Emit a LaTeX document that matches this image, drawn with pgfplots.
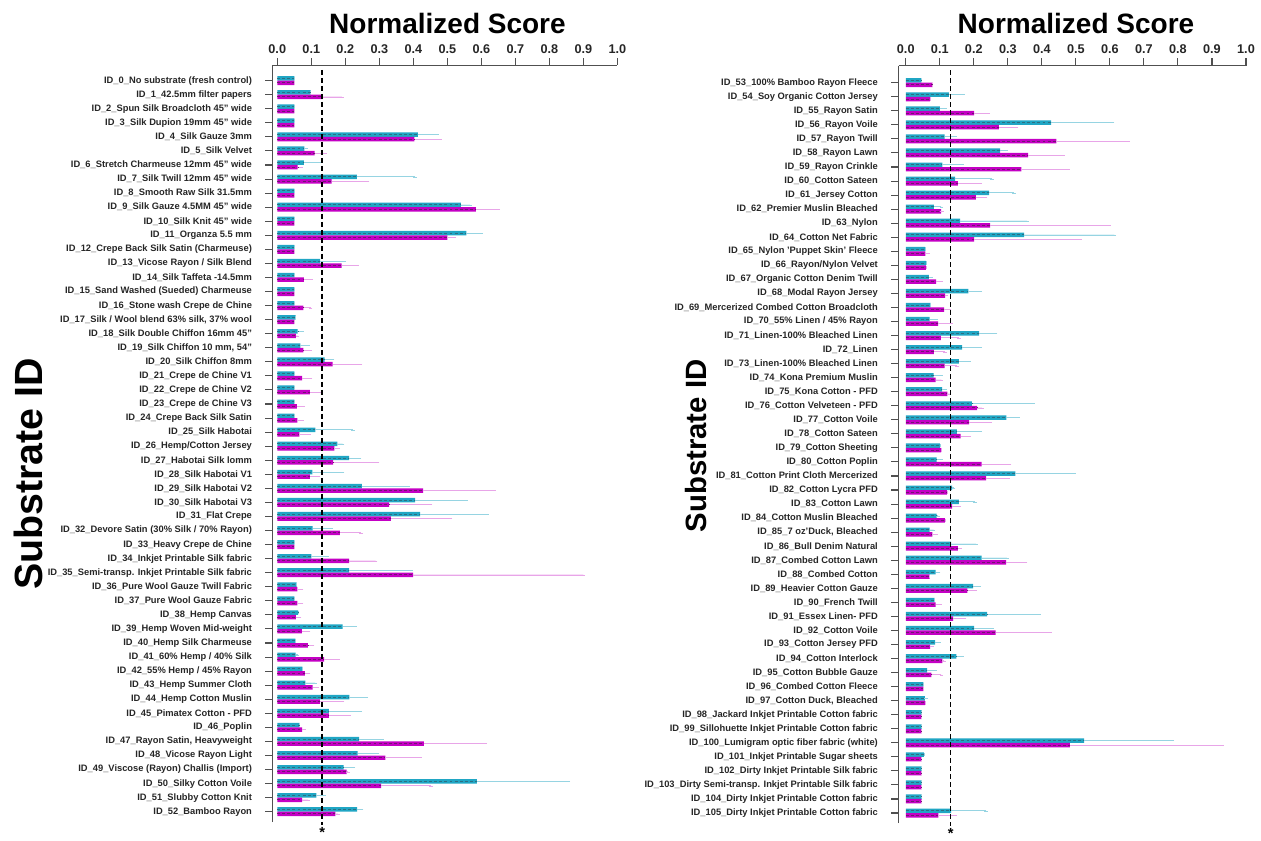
\documentclass[border=0pt]{standalone}
\usepackage{pgfplots}
\pgfplotsset{compat=1.18}
\usepackage{pgfplotstable}
\usepackage{fontspec}
\setmainfont{Liberation Sans}
\definecolor{cyb}{RGB}{32,166,196}
\definecolor{cyd}{RGB}{45,110,130}
\definecolor{cye}{RGB}{150,212,226}
\definecolor{mgb}{RGB}{196,0,196}
\definecolor{mgd}{RGB}{110,25,110}
\definecolor{mge}{RGB}{232,165,232}
\definecolor{axc}{RGB}{80,80,80}

% y = -(position), c = cyan value, ce = cyan error end, m = magenta value, me = magenta error end
\pgfplotstableread{
y c ce m me
0 0.050 0.050 0.050 0.050
-1 0.098 0.098 0.133 0.190
-2 0.050 0.050 0.050 0.050
-3 0.050 0.050 0.050 0.050
-4 0.413 0.470 0.403 0.478
-5 0.080 0.085 0.110 0.140
-6 0.078 0.126 0.060 0.070
-7 0.234 0.405 0.160 0.266
-8 0.050 0.050 0.050 0.050
-9 0.540 0.567 0.584 0.650
-10 0.050 0.050 0.050 0.050
-11 0.556 0.600 0.500 0.520
-12 0.050 0.050 0.050 0.050
-13 0.126 0.197 0.189 0.234
-14 0.050 0.050 0.078 0.100
-15 0.050 0.050 0.050 0.050
-16 0.050 0.050 0.077 0.098
-17 0.054 0.054 0.050 0.050
-18 0.060 0.073 0.055 0.060
-19 0.068 0.091 0.077 0.097
-20 0.139 0.163 0.163 0.245
-21 0.050 0.050 0.073 0.098
-22 0.050 0.050 0.096 0.124
-23 0.050 0.050 0.058 0.077
-24 0.050 0.050 0.059 0.073
-25 0.112 0.222 0.065 0.094
-26 0.177 0.192 0.168 0.180
-27 0.211 0.242 0.164 0.295
-28 0.103 0.192 0.096 0.120
-29 0.249 0.384 0.429 0.638
-30 0.405 0.555 0.329 0.451
-31 0.420 0.617 0.334 0.510
-32 0.104 0.159 0.184 0.246
-33 0.050 0.050 0.050 0.050
-34 0.100 0.148 0.211 0.289
-35 0.211 0.393 0.399 0.900
-36 0.057 0.057 0.059 0.072
-37 0.050 0.050 0.059 0.072
-38 0.061 0.061 0.055 0.066
-39 0.192 0.229 0.072 0.092
-40 0.053 0.053 0.090 0.104
-41 0.054 0.060 0.138 0.180
-42 0.074 0.074 0.081 0.092
-43 0.083 0.111 0.104 0.118
-44 0.212 0.262 0.125 0.192
-45 0.152 0.244 0.152 0.211
-46 0.066 0.066 0.073 0.079
-47 0.241 0.308 0.431 0.612
-48 0.236 0.295 0.318 0.419
-49 0.195 0.224 0.204 0.208
-50 0.587 0.856 0.305 0.452
-51 0.115 0.138 0.073 0.091
-52 0.235 0.248 0.171 0.178
}\leftdata

\pgfplotstableread{
y c ce m me
0 0.046 0.046 0.079 0.079
-1 0.127 0.168 0.071 0.071
-2 0.100 0.115 0.201 0.243
-3 0.427 0.608 0.274 0.326
-4 0.114 0.146 0.443 0.654
-5 0.277 0.296 0.360 0.462
-6 0.108 0.165 0.340 0.477
-7 0.145 0.254 0.153 0.219
-8 0.245 0.318 0.206 0.235
-9 0.083 0.105 0.104 0.106
-10 0.160 0.357 0.248 0.598
-11 0.348 0.613 0.201 0.512
-12 0.056 0.056 0.058 0.066
-13 0.059 0.059 0.059 0.059
-14 0.068 0.074 0.089 0.105
-15 0.184 0.219 0.116 0.119
-16 0.073 0.073 0.113 0.127
-17 0.070 0.090 0.095 0.133
-18 0.216 0.264 0.103 0.156
-19 0.166 0.219 0.083 0.115
-20 0.156 0.186 0.114 0.150
-21 0.082 0.103 0.088 0.105
-22 0.107 0.115 0.122 0.129
-23 0.194 0.374 0.210 0.224
-24 0.296 0.330 0.186 0.249
-25 0.150 0.219 0.161 0.186
-26 0.100 0.100 0.104 0.104
-27 0.091 0.103 0.223 0.305
-28 0.322 0.494 0.236 0.301
-29 0.136 0.141 0.121 0.121
-30 0.156 0.203 0.136 0.156
-31 0.091 0.096 0.115 0.115
-32 0.070 0.082 0.078 0.089
-33 0.133 0.207 0.153 0.160
-34 0.223 0.297 0.295 0.352
-35 0.088 0.097 0.070 0.070
-36 0.198 0.216 0.181 0.205
-37 0.085 0.085 0.088 0.100
-38 0.239 0.391 0.139 0.173
-39 0.201 0.255 0.264 0.425
-40 0.086 0.098 0.072 0.077
-41 0.149 0.165 0.108 0.113
-42 0.063 0.086 0.075 0.105
-43 0.052 0.052 0.052 0.052
-44 0.056 0.059 0.056 0.056
-45 0.047 0.047 0.047 0.047
-46 0.047 0.047 0.047 0.047
-47 0.524 0.784 0.482 0.929
-48 0.053 0.053 0.047 0.047
-49 0.047 0.047 0.047 0.047
-50 0.047 0.047 0.047 0.047
-51 0.047 0.047 0.047 0.047
-52 0.133 0.236 0.096 0.146
}\rightdata

\pgfplotsset{
  panel/.style={
    scale only axis, xmax=1, clip=false,
    axis x line*=top, axis y line*=left,
    axis line style={-, line width=0.9pt, draw=axc},
    tick align=outside, major tick length=5.5pt,
    tick style={line width=0.8pt, draw=axc},
    xtick={0,0.1,0.2,0.3,0.4,0.5,0.6,0.7,0.8,0.9,1.0},
    xticklabels={0.0,0.1,0.2,0.3,0.4,0.5,0.6,0.7,0.8,0.9,1.0},
    xticklabel style={font=\bfseries\fontsize{9.5}{10}\selectfont, text=black!85},
    ytick={0,-1,...,-52},
    yticklabel style={font=\bfseries\fontsize{7.0}{8}\selectfont, text=black!85, xshift=-6.5pt},
  },
  cbar/.style={xbar, bar width=0.32, bar shift=0pt, fill=cyb, draw=none,
    error bars/.cd, x dir=plus, x explicit,
    error bar style={draw=cye, line width=0.6pt},
    error mark options={draw=cye, mark size=1.3pt}},
  mbar/.style={xbar, bar width=0.32, bar shift=0pt, fill=mgb, draw=none,
    error bars/.cd, x dir=plus, x explicit,
    error bar style={draw=mge, line width=0.6pt},
    error mark options={draw=mge, mark size=1.3pt}},
  ctex/.style={xcomb, draw=cyd, line width=0.75pt, dash pattern=on 2.2pt off 1.6pt},
  mtex/.style={xcomb, draw=mgd, line width=0.75pt, dash pattern=on 2.2pt off 1.6pt},
  thr/.style={draw=black, line width=1.1pt, dash pattern=on 3.5pt off 2.5pt},
}
\tikzset{starnode/.style={font=\bfseries\fontsize{11}{11}\selectfont, inner sep=0pt}}

\begin{document}
\begin{tikzpicture}
\path[use as bounding box] (0,0) rectangle (945.75pt,630pt);

% ---------------- left panel ----------------
\begin{axis}[panel,
  at={(204.5pt,13.5pt)}, anchor=south west,
  width=258.6pt, height=567.4pt,
  xmin=-0.0135, ymin=-52.73, ymax=1.08,
  yticklabels={
    {ID\_0\_No substrate (fresh control)},
    {ID\_1\_42.5mm filter papers},
    {ID\_2\_Spun Silk Broadcloth 45" wide},
    {ID\_3\_Silk Dupion 19mm 45" wide},
    {ID\_4\_Silk Gauze 3mm},
    {ID\_5\_Silk Velvet},
    {ID\_6\_Stretch Charmeuse 12mm 45" wide},
    {ID\_7\_Silk Twill 12mm 45" wide},
    {ID\_8\_Smooth Raw Silk 31.5mm},
    {ID\_9\_Silk Gauze 4.5MM 45" wide},
    {ID\_10\_Silk Knit 45" wide},
    {ID\_11\_Organza 5.5 mm},
    {ID\_12\_Crepe Back Silk Satin (Charmeuse)},
    {ID\_13\_Vicose Rayon / Silk Blend},
    {ID\_14\_Silk Taffeta -14.5mm},
    {ID\_15\_Sand Washed (Sueded) Charmeuse},
    {ID\_16\_Stone wash Crepe de Chine},
    {ID\_17\_Silk / Wool blend 63\% silk, 37\% wool},
    {ID\_18\_Silk Double Chiffon 16mm 45"},
    {ID\_19\_Silk Chiffon 10 mm, 54"},
    {ID\_20\_Silk Chiffon 8mm},
    {ID\_21\_Crepe de Chine V1},
    {ID\_22\_Crepe de Chine V2},
    {ID\_23\_Crepe de Chine V3},
    {ID\_24\_Crepe Back Silk Satin},
    {ID\_25\_Silk Habotai},
    {ID\_26\_Hemp/Cotton Jersey},
    {ID\_27\_Habotai Silk lomm},
    {ID\_28\_Silk Habotai V1},
    {ID\_29\_Silk Habotai V2},
    {ID\_30\_Silk Habotai V3},
    {ID\_31\_Flat Crepe},
    {ID\_32\_Devore Satin (30\% Silk / 70\% Rayon)},
    {ID\_33\_Heavy Crepe de Chine},
    {ID\_34\_Inkjet Printable Silk fabric},
    {ID\_35\_Semi-transp. Inkjet Printable Silk fabric},
    {ID\_36\_Pure Wool Gauze Twill Fabric},
    {ID\_37\_Pure Wool Gauze Fabric},
    {ID\_38\_Hemp Canvas},
    {ID\_39\_Hemp Woven Mid-weight},
    {ID\_40\_Hemp Silk Charmeuse},
    {ID\_41\_60\% Hemp / 40\% Silk},
    {ID\_42\_55\% Hemp / 45\% Rayon},
    {ID\_43\_Hemp Summer Cloth},
    {ID\_44\_Hemp Cotton Muslin},
    {ID\_45\_Pimatex Cotton - PFD},
    {ID\_46\_Poplin},
    {ID\_47\_Rayon Satin, Heavyweight},
    {ID\_48\_Vicose Rayon Light},
    {ID\_49\_Viscose (Rayon) Challis (Import)},
    {ID\_50\_Silky Cotton Voile},
    {ID\_51\_Slubby Cotton Knit},
    {ID\_52\_Bamboo Rayon}},
]
\addplot[cbar] table[x=c, y expr=\thisrow{y}+0.16, x error expr=\thisrow{ce}-\thisrow{c}] {\leftdata};
\addplot[mbar] table[x=m, y expr=\thisrow{y}-0.16, x error expr=\thisrow{me}-\thisrow{m}] {\leftdata};
\addplot[ctex] table[x=c, y expr=\thisrow{y}+0.16] {\leftdata};
\addplot[mtex] table[x=m, y expr=\thisrow{y}-0.16] {\leftdata};
\addplot[thr] coordinates {(0.132,0.76) (0.132,-52.95)};
\node[starnode] at (axis cs:0.132,-53.45) {*};
\end{axis}

% ---------------- right panel ----------------
\begin{axis}[panel,
  at={(673.9pt,12.75pt)}, anchor=south west,
  width=260.6pt, height=568.1pt,
  xmin=-0.0212, ymin=-52.71, ymax=1.225,
  yticklabels={
    {ID\_53\_100\% Bamboo Rayon Fleece},
    {ID\_54\_Soy Organic Cotton Jersey},
    {ID\_55\_Rayon Satin},
    {ID\_56\_Rayon Voile},
    {ID\_57\_Rayon Twill},
    {ID\_58\_Rayon Lawn},
    {ID\_59\_Rayon Crinkle},
    {ID\_60\_Cotton Sateen},
    {ID\_61\_Jersey Cotton},
    {ID\_62\_Premier Muslin Bleached},
    {ID\_63\_Nylon},
    {ID\_64\_Cotton Net Fabric},
    {ID\_65\_Nylon 'Puppet Skin' Fleece},
    {ID\_66\_Rayon/Nylon Velvet},
    {ID\_67\_Organic Cotton Denim Twill},
    {ID\_68\_Modal Rayon Jersey},
    {ID\_69\_Mercerized Combed Cotton Broadcloth},
    {ID\_70\_55\% Linen / 45\% Rayon},
    {ID\_71\_Linen-100\% Bleached Linen},
    {ID\_72\_Linen},
    {ID\_73\_Linen-100\% Bleached Linen},
    {ID\_74\_Kona Premium Muslin},
    {ID\_75\_Kona Cotton - PFD},
    {ID\_76\_Cotton Velveteen - PFD},
    {ID\_77\_Cotton Voile},
    {ID\_78\_Cotton Sateen},
    {ID\_79\_Cotton Sheeting},
    {ID\_80\_Cotton Poplin},
    {ID\_81\_Cotton Print Cloth Mercerized},
    {ID\_82\_Cotton Lycra PFD},
    {ID\_83\_Cotton Lawn},
    {ID\_84\_Cotton Muslin Bleached},
    {ID\_85\_7 oz'Duck, Bleached},
    {ID\_86\_Bull Denim Natural},
    {ID\_87\_Combed Cotton Lawn},
    {ID\_88\_Combed Cotton},
    {ID\_89\_Heavier Cotton Gauze},
    {ID\_90\_French Twill},
    {ID\_91\_Essex Linen- PFD},
    {ID\_92\_Cotton Voile},
    {ID\_93\_Cotton Jersey PFD},
    {ID\_94\_Cotton Interlock},
    {ID\_95\_Cotton Bubble Gauze},
    {ID\_96\_Combed Cotton Fleece},
    {ID\_97\_Cotton Duck, Bleached},
    {ID\_98\_Jackard Inkjet Printable Cotton fabric},
    {ID\_99\_Sillohuette Inkjet Printable Cotton fabric},
    {ID\_100\_Lumigram optic fiber fabric (white)},
    {ID\_101\_Inkjet Printable Sugar sheets},
    {ID\_102\_Dirty Inkjet Printable Silk fabric},
    {ID\_103\_Dirty Semi-transp. Inkjet Printable Silk fabric},
    {ID\_104\_Dirty Inkjet Printable Cotton fabric},
    {ID\_105\_Dirty Inkjet Printable Cotton fabric}},
]
\addplot[cbar] table[x=c, y expr=\thisrow{y}+0.16, x error expr=\thisrow{ce}-\thisrow{c}] {\rightdata};
\addplot[mbar] table[x=m, y expr=\thisrow{y}-0.16, x error expr=\thisrow{me}-\thisrow{m}] {\rightdata};
\addplot[ctex] table[x=c, y expr=\thisrow{y}+0.16] {\rightdata};
\addplot[mtex] table[x=m, y expr=\thisrow{y}-0.16] {\rightdata};
\addplot[thr] coordinates {(0.132,0.9) (0.132,-52.95)};
\node[starnode] at (axis cs:0.132,-53.45) {*};
\end{axis}

% ---------------- titles ----------------
\node[font=\bfseries\fontsize{21}{24}\selectfont] at (335.6pt,612.75pt) {Normalized Score};
\node[font=\bfseries\fontsize{21}{24}\selectfont] at (807pt,612.75pt) {Normalized Score};
\node[font=\bfseries\fontsize{29.5}{31}\selectfont, rotate=90] at (21.5pt,274.5pt) {Substrate ID};
\node[font=\bfseries\fontsize{22}{24}\selectfont, rotate=90] at (522pt,295.5pt) {Substrate ID};
\end{tikzpicture}
\end{document}
